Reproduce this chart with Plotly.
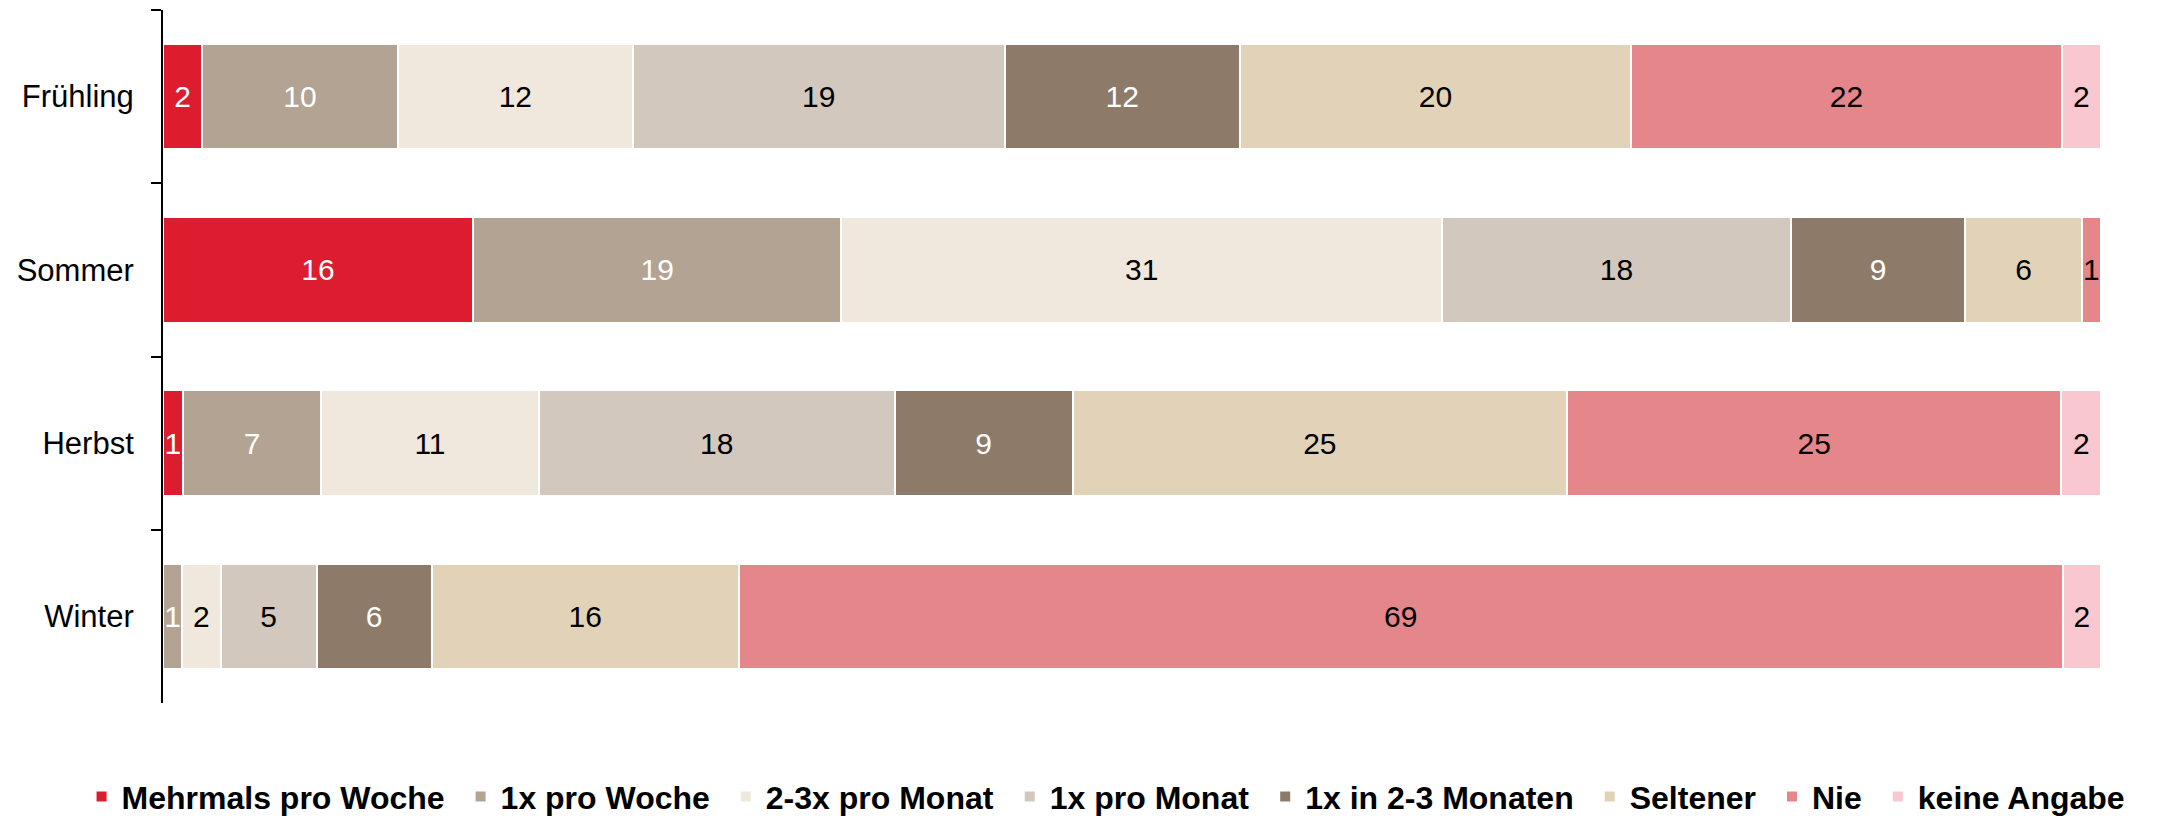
import plotly.graph_objects as go

seasons = ["Frühling", "Sommer", "Herbst", "Winter"]
series_names = ["Mehrmals pro Woche", "1x pro Woche", "2-3x pro Monat", "1x pro Monat",
                "1x in 2-3 Monaten", "Seltener", "Nie", "keine Angabe"]
mehrmals = [2, 16, 1, None]
pro_woche = [10, 19, 7, 1]
monat_2_3 = [12, 31, 11, 2]
pro_monat = [19, 18, 18, 5]
monate_2_3 = [12, 9, 9, 6]
seltener = [20, 6, 25, 16]
nie = [22, 1, 25, 69]
keine = [2, None, 2, 2]

values = [mehrmals, pro_woche, monat_2_3, pro_monat, monate_2_3, seltener, nie, keine]
colors = ["#DC1C2F", "#B3A393", "#F0E8DC", "#D2C8BE", "#8E7A68", "#E2D3B8", "#E4868A", "#F9C7CF"]
text_colors = ["white", "white", "black", "black", "white", "black", "black", "black"]

FONT = "Liberation Sans, Arial, sans-serif"

fig = go.Figure()
for name, vals, col, tcol in zip(series_names, values, colors, text_colors):
    fig.add_trace(go.Bar(
        y=seasons, x=vals, name=name, orientation="h",
        marker=dict(color=col, line=dict(color="white", width=2)),
        text=["" if v is None else str(v) for v in vals],
        texttemplate="%{text}",
        textposition="inside", insidetextanchor="middle", textangle=0,
        textfont=dict(color=tcol, size=30, family=FONT),
        hoverinfo="skip",
    ))

# the page body adds an 8px offset, so the figure is shifted accordingly
fig.update_layout(
    barmode="stack", barnorm="percent", bargap=0.39,
    width=2174, height=818,
    margin=dict(l=155, r=81, t=2, b=116),
    plot_bgcolor="white", paper_bgcolor="white",
    font=dict(family=FONT, color="black", size=30),
    uniformtext=dict(minsize=30, mode="show"),
    showlegend=True,
    legend=dict(orientation="h", xref="paper", yref="paper",
                x=-0.0477, xanchor="left", y=-0.0957, yanchor="top",
                indentation=11,
                font=dict(size=32, family=FONT, color="black", weight="bold"),
                traceorder="normal", itemclick=False),
    xaxis=dict(range=[0, 100], visible=False, showgrid=False),
    yaxis=dict(autorange="reversed", showline=True, linecolor="black", linewidth=2,
               ticks="outside", tickson="boundaries", ticklen=10, tickcolor="black", tickwidth=2,
               tickfont=dict(size=31, family=FONT, color="black"), showgrid=False,
               ticklabelstandoff=21, automargin=False),
)

fig.write_html("out.html")
